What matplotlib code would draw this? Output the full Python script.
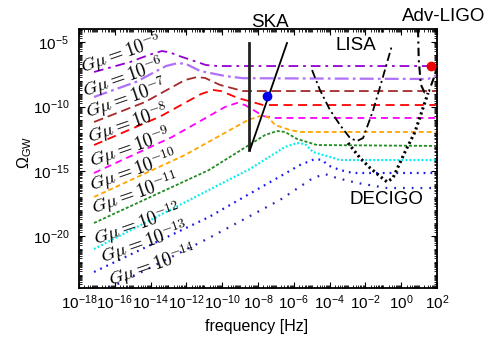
import numpy as np
import matplotlib
matplotlib.use('Agg')
import matplotlib.pyplot as plt
from matplotlib.ticker import LogLocator, FixedLocator, NullFormatter, LogFormatterSciNotation

plt.rcParams['font.family'] = ['Liberation Sans', 'DejaVu Sans']
plt.rcParams['mathtext.fontset'] = 'custom'
plt.rcParams['mathtext.rm'] = 'Liberation Sans'
plt.rcParams['mathtext.it'] = 'Liberation Sans:italic'
plt.rcParams['mathtext.bf'] = 'Liberation Sans:bold'
plt.rcParams['mathtext.sf'] = 'Liberation Sans'
plt.rcParams['lines.scale_dashes'] = False

# ---------------- data (log10 f [Hz], log10 Omega_GW) ----------------
gmu_exponents = [-5, -6, -7, -8, -9, -10, -11, -12, -13, -14]

lf_gmu5 = [-17.16, -15.15, -14.03, -13.36, -12.92, -12.41, -10.91, -10.24, 2.0]
lo_gmu5 = [-7.32, -6.55, -5.97, -5.70, -5.81, -6.08, -6.78, -6.86, -6.86]

lf_gmu6 = [-17.16, -14.82, -13.14, -12.47, -12.02, -11.24, -9.84, -8.84, 1.50, 2.0]
lo_gmu6 = [-9.25, -8.09, -6.86, -6.63, -6.70, -7.24, -7.63, -7.80, -7.86, -7.55]

lf_gmu7 = [-17.16, -14.31, -12.08, -11.41, -10.96, -10.12, -8.84, 2.0]
lo_gmu7 = [-11.18, -9.64, -7.94, -7.71, -7.78, -8.32, -8.79, -8.79]

lf_gmu8 = [-17.16, -13.47, -11.18, -10.51, -10.07, -9.12, -7.72, 2.0]
lo_gmu8 = [-12.96, -10.76, -9.02, -8.71, -8.79, -9.33, -9.87, -9.87]

lf_gmu9 = [-17.16, -12.80, -9.84, -9.17, -8.73, -8.17, -7.72, -7.05, 2.0]
lo_gmu9 = [-15.12, -12.34, -10.02, -9.71, -9.87, -10.33, -10.72, -10.87, -10.87]

lf_gmu10 = [-17.16, -12.08, -8.56, -7.89, -7.44, -7.05, -6.21, -5.65, 2.0]
lo_gmu10 = [-16.97, -13.73, -11.03, -10.72, -10.80, -11.41, -11.80, -11.95, -11.95]

lf_gmu11 = [-17.16, -10.74, -7.61, -6.94, -6.49, -5.82, -4.70, 2.0]
lo_gmu11 = [-18.98, -14.89, -12.19, -11.88, -11.95, -12.49, -12.96, -13.03]

lf_gmu12 = [-17.16, -10.74, -8.45, -6.49, -5.82, -5.37, -4.93, -3.98, -3.42, 2.0]
lo_gmu12 = [-20.99, -16.43, -14.81, -13.11, -12.80, -12.88, -13.50, -13.88, -14.12, -14.12]

lf_gmu13 = [-17.16, -10.74, -5.65, -4.82, -4.37, -4.15, -3.42, -2.69, 2.0]
lo_gmu13 = [-22.76, -18.52, -14.50, -14.04, -14.12, -14.50, -14.89, -15.12, -15.12]

lf_gmu14 = [-17.16, -10.74, -6.77, -4.93, -4.26, -3.59, -2.69, -2.13, -0.79, 2.0]
lo_gmu14 = [-24.62, -20.14, -17.20, -15.51, -15.20, -15.51, -15.81, -15.97, -16.28, -16.28]

# label anchor positions (log10 f, log10 Omega)
label_lf = [-17.78, -17.66, -17.50, -17.39, -17.27, -17.27, -17.16, -17.05, -16.66, -16.21]
label_lo = [-7.45, -9.25, -10.87, -12.80, -14.66, -16.51, -18.29, -20.68, -22.07, -23.85]

# detectors
ska_vert_lf = [-8.50, -8.50]
ska_vert_lo = [-5.08, -13.34]
ska_slant_lf = [-8.45, -6.38]
ska_slant_lo = [-13.34, -5.08]
lisa_lf = [-4.98, -4.54, -3.98, -3.42, -2.86, -2.47, -2.13, -1.58, -1.07, -0.51]
lisa_lo = [-7.17, -8.71, -10.25, -11.41, -12.42, -12.65, -12.42, -10.33, -7.94, -5.24]
decigo_lf = [-2.97, -2.30, -1.74, -1.07, -0.79, -0.46, -0.18, 0.21, 0.77, 1.22, 1.50]
decigo_lo = [-12.80, -13.96, -14.73, -15.50, -15.81, -15.50, -14.66, -13.50, -11.95, -10.10, -8.94]
ligo_lf = [0.94, 0.98, 1.10, 1.30, 1.55, 1.95, 2.05]
ligo_lo = [-4.0, -6.40, -8.30, -8.90, -8.80, -7.30, -6.90]
pulsar_point = (-7.51, -9.20)
ligo_point = (1.665, -6.83)

curves = [(lf_gmu5, lo_gmu5), (lf_gmu6, lo_gmu6), (lf_gmu7, lo_gmu7), (lf_gmu8, lo_gmu8),
          (lf_gmu9, lo_gmu9), (lf_gmu10, lo_gmu10), (lf_gmu11, lo_gmu11), (lf_gmu12, lo_gmu12),
          (lf_gmu13, lo_gmu13), (lf_gmu14, lo_gmu14)]

styles = [
    dict(color='#9400D3', lw=1.3, dashes=(7, 3.5, 2, 3.5)),
    dict(color='#B070F8', lw=1.6, dashes=(10, 3, 2, 3)),
    dict(color='#A52A2A', lw=1.3, dashes=(7, 3.5)),
    dict(color='#FF0000', lw=1.3, dashes=(6.5, 4)),
    dict(color='#FF00FF', lw=1.3, dashes=(5, 3.5)),
    dict(color='#FFA500', lw=1.3, dashes=(3.5, 2.2)),
    dict(color='#228B22', lw=1.3, dashes=(2.2, 1.4)),
    dict(color='#00EEEE', lw=1.6, dashes=(1.3, 1.6)),
    dict(color='#1A1AF0', lw=1.6, dashes=(1.3, 3.6)),
    dict(color='#2828B8', lw=1.6, dashes=(1.3, 5.0)),
]

fig = plt.figure(figsize=(4.91, 3.40), dpi=100)
ax = fig.add_axes([79/491, 1-288/340, (437-79)/491, (288-29)/340])
ax.set_xscale('log')
ax.set_yscale('log')
ax.set_xlim(1e-18, 1e2)
ax.set_ylim(1e-24, 1e-4)

for (lf, lo), st in zip(curves, styles):
    ax.plot(10.0**np.array(lf), 10.0**np.array(lo), color=st['color'], lw=st['lw'],
            dashes=st['dashes'], zorder=2)

for e, x, y in zip(gmu_exponents, label_lf, label_lo):
    ax.text(10.0**x, 10.0**y, r'$G\mu = 10^{%d}$' % e, math_fontfamily='cm', fontsize=13.5,
            rotation=19, rotation_mode='anchor', ha='left', va='baseline', zorder=4)

ax.plot(10.0**np.array(ska_vert_lf), 10.0**np.array(ska_vert_lo), color='#222222', lw=2.0, zorder=3)
ax.plot(10.0**np.array(ska_slant_lf), 10.0**np.array(ska_slant_lo), color='black', lw=1.3, zorder=3)
ax.plot(10.0**np.array(lisa_lf), 10.0**np.array(lisa_lo), color='black', lw=1.3,
        dashes=(6, 2.5, 1.5, 2.5), zorder=3)
ax.plot(10.0**np.array(decigo_lf), 10.0**np.array(decigo_lo), color='black', lw=2.2,
        dashes=(1.6, 2.2), zorder=3)
ax.plot(10.0**np.array(ligo_lf), 10.0**np.array(ligo_lo), color='black', lw=1.5,
        dashes=(6, 3, 1.5, 3), zorder=3)
ax.plot(10.0**pulsar_point[0], 10.0**pulsar_point[1], 'o', color='#0000EE', ms=6, zorder=5)
ax.plot(10.0**ligo_point[0], 10.0**ligo_point[1], 'o', color='#EE0000', ms=6, zorder=5, clip_on=False)

ax.text(10.0**-7.33, 10.0**-3.46, 'SKA', fontsize=13.5, ha='center', va='center', clip_on=False)
ax.text(10.0**2.39, 10.0**-3.0, 'Adv-LIGO', fontsize=13.5, ha='center', va='center', clip_on=False)
ax.text(10.0**-2.53, 10.0**-5.24, 'LISA', fontsize=13.5, ha='center', va='center')
ax.text(10.0**-0.85, 10.0**-17.13, 'DECIGO', fontsize=13.5, ha='center', va='center')

ax.xaxis.set_major_locator(FixedLocator(10.0**np.arange(-18, 3, 2)))
ax.xaxis.set_minor_locator(LogLocator(base=10, subs=np.arange(1, 10), numticks=1000))
ax.xaxis.set_major_formatter(LogFormatterSciNotation())
ax.xaxis.set_minor_formatter(NullFormatter())
ax.yaxis.set_major_locator(FixedLocator(10.0**np.arange(-20, -4, 5)))
ax.yaxis.set_minor_locator(LogLocator(base=10, subs=np.arange(1, 10), numticks=1000))
ax.yaxis.set_major_formatter(LogFormatterSciNotation())
ax.yaxis.set_minor_formatter(NullFormatter())

ax.tick_params(which='both', direction='in', top=True, right=True, labelsize=11)
ax.tick_params(which='major', length=4, width=0.8)
ax.tick_params(which='minor', length=2, width=0.6)
ax.tick_params(axis='x', which='major', pad=4)
ax.tick_params(axis='y', which='major', pad=7)
for s in ax.spines.values():
    s.set_linewidth(1.3)

fig.text(257/491, 1-327/340, 'frequency [Hz]', fontsize=11.5, ha='center', va='center')
fig.text(25/491, 1-152/340, r'$\Omega_{\rm GW}$', fontsize=11.5, rotation=90, ha='center', va='center')

fig.savefig('out.png', dpi=100)
